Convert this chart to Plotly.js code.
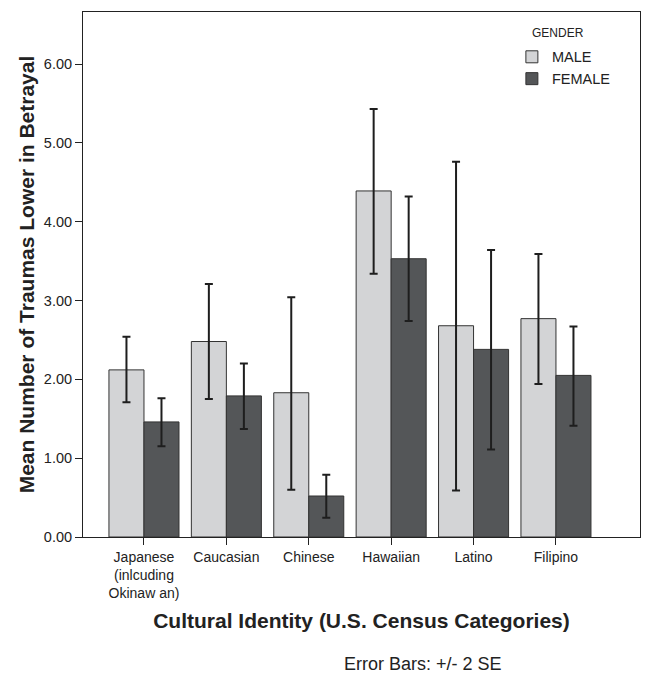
<!DOCTYPE html>
<html>
<head>
<meta charset="utf-8">
<script src="https://cdn.plot.ly/plotly-3.0.1.min.js"></script>
<style>html,body{margin:0;padding:0;background:#fff;}#chart{width:647px;height:675px;}</style>
</head>
<body>
<div id="chart"></div>
<script>
const categories = ["Japanese<br>(inlcuding<br>Okinaw an)", "Caucasian", "Chinese", "Hawaiian", "Latino", "Filipino"];
const maleMean = [2.12, 2.48, 1.83, 4.39, 2.68, 2.77];
const maleUpper = [2.54, 3.21, 3.04, 5.43, 4.76, 3.59];
const maleLower = [1.71, 1.75, 0.60, 3.34, 0.59, 1.94];
const femaleMean = [1.46, 1.79, 0.52, 3.53, 2.38, 2.05];
const femaleUpper = [1.76, 2.20, 0.79, 4.32, 3.64, 2.67];
const femaleLower = [1.15, 1.37, 0.245, 2.74, 1.11, 1.41];
const yTickVals = [0, 1, 2, 3, 4, 5, 6];
const yTickText = ['0.00', '1.00', '2.00', '3.00', '4.00', '5.00', '6.00'];

const idx = categories.map((c, i) => i);
function errs(mean, up, lo) {
  return {
    type: 'data', symmetric: false,
    array: mean.map((m, i) => up[i] - m),
    arrayminus: mean.map((m, i) => m - lo[i]),
    color: '#1e1e1e', thickness: 2, width: 4
  };
}
const FONT = 'Liberation Sans, Arial, sans-serif';
const traces = [
  {type: 'bar', name: 'MALE', x: idx, y: maleMean,
   marker: {color: '#d3d4d6', line: {color: '#333', width: 1}},
   error_y: errs(maleMean, maleUpper, maleLower)},
  {type: 'bar', name: 'FEMALE', x: idx, y: femaleMean,
   marker: {color: '#545658', line: {color: '#333', width: 1}},
   error_y: errs(femaleMean, femaleUpper, femaleLower)}
];
const layout = {
  width: 647, height: 675,
  margin: {l: 83, r: 7, t: 12, b: 138},
  paper_bgcolor: '#fff', plot_bgcolor: '#fff',
  font: {family: FONT, color: '#222'},
  barmode: 'group', bargap: 0.15, bargroupgap: 0,
  showlegend: true,
  legend: {x: 0.77, y: 0.945, xanchor: 'left', yanchor: 'top',
           font: {size: 14.5, color: '#222'},
           tracegroupgap: 0, itemwidth: 30, bgcolor: 'rgba(0,0,0,0)'},
  xaxis: {
    range: [-0.74, 6.02], tickmode: 'array', tickvals: idx, ticktext: categories,
    showline: true, linecolor: '#222', linewidth: 1, mirror: true,
    ticks: 'outside', ticklen: 7, tickcolor: '#222', showgrid: false, zeroline: false,
    tickfont: {size: 14, color: '#222'},
    title: {text: 'Cultural Identity (U.S. Census Categories)', standoff: 13,
            font: {size: 21, color: '#222', family: FONT, weight: 'bold'}}
  },
  yaxis: {
    range: [0, 6.66], tickmode: 'array', tickvals: yTickVals, ticktext: yTickText,
    showline: true, linecolor: '#222', linewidth: 1, mirror: true,
    ticks: 'outside', ticklen: 7, tickcolor: '#222', showgrid: false, zeroline: false,
    tickfont: {size: 14.5, color: '#222'},
    title: {text: 'Mean Number of Traumas Lower in Betrayal', standoff: 3,
            font: {size: 21, color: '#222', family: FONT, weight: 'bold'}}
  },
  annotations: [
    {text: 'GENDER', xref: 'paper', yref: 'paper', x: 0.8025, y: 0.96,
     xanchor: 'left', yanchor: 'middle', showarrow: false,
     font: {size: 12, color: '#222'}},
    {text: 'Error Bars: +/- 2 SE', xref: 'paper', yref: 'paper', x: 0.61, y: -0.242,
     xanchor: 'center', yanchor: 'middle', showarrow: false,
     font: {size: 18, color: '#222'}}
  ]
};
Plotly.newPlot('chart', traces, layout, {displayModeBar: false});
</script>
</body>
</html>
